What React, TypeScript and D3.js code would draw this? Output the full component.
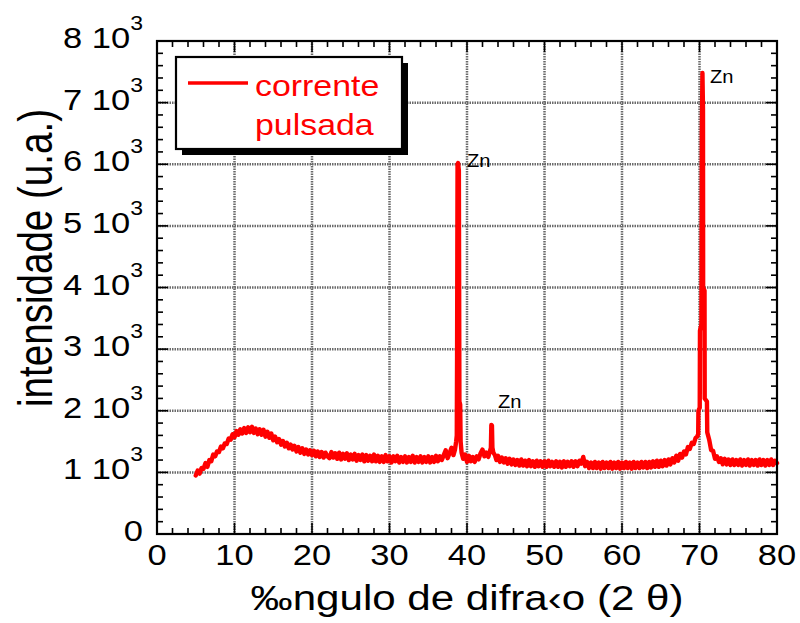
import React from 'react';
import * as d3 from 'd3';

// ---------- data (2θ in degrees, intensity in counts) ----------
const xTickValues = [0, 10, 20, 30, 40, 50, 60, 70, 80];
const xTickLabels = ['0', '10', '20', '30', '40', '50', '60', '70', '80'];
const yTickValues = [0, 1000, 2000, 3000, 4000, 5000, 6000, 7000, 8000];
const yTickMantissas = ['0', '1', '2', '3', '4', '5', '6', '7', '8'];
const yTickExponent = '3';

const seriesName = ['corrente', 'pulsada'];

const amorphousHump: [number, number][] = [
  [5.0, 950], [5.25, 1030], [5.5, 980], [5.75, 1070], [6.0, 1060], [6.25, 1150], [6.5, 1090], [6.75, 1200],
  [7.0, 1180], [7.25, 1290], [7.5, 1260], [7.75, 1340], [8.0, 1330], [8.25, 1420], [8.5, 1390], [8.75, 1470],
  [9.0, 1460], [9.25, 1550], [9.5, 1530], [9.75, 1620], [10.0, 1570], [10.25, 1670], [10.5, 1610], [10.75, 1700],
  [11.0, 1630], [11.25, 1720], [11.5, 1640], [11.75, 1730], [12.0, 1650], [12.25, 1740], [12.5, 1640], [12.75, 1710],
  [13.0, 1620], [13.25, 1700], [13.5, 1610], [13.75, 1690], [14.0, 1580], [14.25, 1660], [14.5, 1560], [14.75, 1630],
  [15.0, 1520], [15.25, 1580], [15.5, 1490], [15.75, 1540], [16.0, 1450], [16.25, 1510], [16.5, 1420], [16.75, 1480],
  [17.0, 1390], [17.25, 1450], [17.5, 1370], [17.75, 1430], [18.0, 1340], [18.25, 1410], [18.5, 1320], [18.75, 1390],
  [19.0, 1300], [19.25, 1370], [19.5, 1290], [19.75, 1360], [20.0, 1280],
];

const baselineLow: [number, number][] = [
  [20.25, 1350], [20.5, 1260], [20.75, 1340], [21.0, 1250], [21.25, 1330], [21.5, 1240], [21.75, 1320], [22.0, 1260],
  [22.25, 1230], [22.5, 1330], [22.75, 1240], [23.0, 1310], [23.25, 1220], [23.5, 1320], [23.75, 1210], [24.0, 1300],
  [24.25, 1220], [24.5, 1310], [24.75, 1200], [25.0, 1290], [25.25, 1210], [25.5, 1300], [25.75, 1190], [26.0, 1280],
  [26.25, 1200], [26.5, 1290], [26.75, 1180], [27.0, 1280], [27.25, 1190], [27.5, 1270], [27.75, 1180], [28.0, 1290],
  [28.25, 1180], [28.5, 1270], [28.75, 1170], [29.0, 1260], [29.25, 1170], [29.5, 1280], [29.75, 1180], [30.0, 1260],
  [30.25, 1160], [30.5, 1260], [30.75, 1180], [31.0, 1270], [31.25, 1160], [31.5, 1250], [31.75, 1170], [32.0, 1260],
  [32.25, 1160], [32.5, 1250], [32.75, 1170], [33.0, 1270], [33.25, 1160], [33.5, 1250], [33.75, 1170], [34.0, 1260],
  [34.25, 1160], [34.5, 1250], [34.75, 1170], [35.0, 1260], [35.25, 1160], [35.5, 1250], [35.75, 1170], [36.0, 1270],
  [36.25, 1180], [36.5, 1260], [36.75, 1200], [37.0, 1280], [37.25, 1360], [37.5, 1230], [37.75, 1310], [38.0, 1400],
  [38.25, 1280], [38.45, 1370],
];

const zincPeak1: [number, number][] = [
  [38.6, 1500], [38.68, 1600], [38.72, 2870], [38.78, 6000], [38.85, 6020], [38.95, 5900], [39.02, 2150],
  [39.12, 2100], [39.18, 1500], [39.3, 1320], [39.5, 1220], [39.75, 1290], [40.0, 1170],
];

const baselineMid: [number, number][] = [
  [40.25, 1270], [40.5, 1180], [40.75, 1250], [41.0, 1170], [41.25, 1260], [41.5, 1210], [41.75, 1310], [42.0, 1370],
  [42.25, 1260], [42.5, 1320], [42.75, 1250], [42.95, 1340],
];

const zincPeak2: [number, number][] = [
  [43.08, 1400], [43.14, 1770], [43.22, 1760], [43.28, 1400], [43.4, 1320], [43.6, 1280], [43.8, 1200],
  [44.0, 1270], [44.25, 1170], [44.5, 1240], [44.75, 1160], [45.0, 1230],
];

const baselineHigh: [number, number][] = [
  [45.25, 1140], [45.5, 1220], [45.75, 1130], [46.0, 1210], [46.25, 1120], [46.5, 1200], [46.75, 1110], [47.0, 1210],
  [47.25, 1110], [47.5, 1190], [47.75, 1100], [48.0, 1200], [48.25, 1100], [48.5, 1180], [48.75, 1090], [49.0, 1190],
  [49.25, 1100], [49.5, 1180], [49.75, 1090], [50.0, 1180], [50.25, 1090], [50.5, 1190], [50.75, 1100], [51.0, 1170],
  [51.25, 1090], [51.5, 1180], [51.75, 1090], [52.0, 1170], [52.25, 1080], [52.5, 1180], [52.75, 1090], [53.0, 1170],
  [53.25, 1100], [53.5, 1180], [53.75, 1090], [54.0, 1180], [54.25, 1100], [54.5, 1190], [54.75, 1140], [55.0, 1250],
  [55.25, 1100], [55.5, 1170], [55.75, 1070], [56.0, 1160], [56.25, 1070], [56.5, 1170], [56.75, 1070], [57.0, 1160],
  [57.25, 1060], [57.5, 1170], [57.75, 1070], [58.0, 1160], [58.25, 1070], [58.5, 1170], [58.75, 1060], [59.0, 1160],
  [59.25, 1070], [59.5, 1170], [59.75, 1060], [60.0, 1160], [60.25, 1070], [60.5, 1170], [60.75, 1070], [61.0, 1160],
  [61.25, 1060], [61.5, 1170], [61.75, 1070], [62.0, 1160], [62.25, 1070], [62.5, 1170], [62.75, 1080], [63.0, 1170],
  [63.25, 1070], [63.5, 1170], [63.75, 1080], [64.0, 1180], [64.25, 1090], [64.5, 1190], [64.75, 1090], [65.0, 1190],
  [65.25, 1100], [65.5, 1200], [65.75, 1110], [66.0, 1210], [66.25, 1130], [66.5, 1230], [66.75, 1160], [67.0, 1270],
  [67.25, 1190], [67.5, 1300], [67.75, 1240], [68.0, 1340], [68.25, 1290], [68.5, 1410], [68.75, 1380], [69.0, 1480],
  [69.25, 1460], [69.5, 1560],
];

const zincPeak3: [number, number][] = [
  [69.7, 1580], [69.83, 1620], [69.86, 2000], [70.03, 2050], [70.06, 3300], [70.25, 3400], [70.3, 6500],
  [70.38, 7480], [70.45, 6900], [70.47, 4000], [70.65, 3950], [70.67, 2200], [70.96, 2150], [71.0, 1650],
  [71.25, 1530], [71.5, 1360], [71.75, 1350], [72.0, 1220], [72.25, 1260], [72.5, 1170], [72.75, 1230],
];

const baselineTail: [number, number][] = [
  [73.0, 1130], [73.25, 1220], [73.5, 1130], [73.75, 1210], [74.0, 1120], [74.25, 1210], [74.5, 1120], [74.75, 1200],
  [75.0, 1120], [75.25, 1210], [75.5, 1110], [75.75, 1200], [76.0, 1120], [76.25, 1210], [76.5, 1110], [76.75, 1200],
  [77.0, 1120], [77.25, 1200], [77.5, 1110], [77.75, 1210], [78.0, 1120], [78.25, 1200], [78.5, 1110], [78.75, 1200],
  [79.0, 1120], [79.25, 1210], [79.5, 1120], [79.75, 1190], [80.0, 1150],
];

const peakLabels: { x: number; y: number; text: string }[] = [
  { x: 40.0, y: 5960, text: 'Zn' },
  { x: 44.0, y: 2045, text: 'Zn' },
  { x: 71.35, y: 7320, text: 'Zn' },
];

const xTitle = '\u2030ngulo de difra\u2039o (2  \u03b8)';
const yTitle = 'intensidade (u.a.)';

// ---------- layout ----------
const W = 800;
const H = 623;
const PL = 157, PR = 777, PT = 41, PB = 534;
const FONT = "'Liberation Sans', Arial, Helvetica, sans-serif";
const SX = 1.15; // horizontal glyph stretch seen in the reference
const RED = '#ff0000';

function StretchText(props: {
  x: number; y: number; size: number; anchor?: string; fill?: string; sx?: number; children: React.ReactNode;
}) {
  const { x, y, size, anchor = 'start', fill = '#000', sx = SX, children } = props;
  return (
    <g transform={`translate(${x},${y}) scale(${sx},1)`}>
      <text x={0} y={0} fontSize={size} fontFamily={FONT} textAnchor={anchor} fill={fill}>
        {children}
      </text>
    </g>
  );
}

export default function App() {
  const x = d3.scaleLinear().domain([0, 80]).range([PL, PR]);
  const y = d3.scaleLinear().domain([0, 8000]).range([PB, PT]);

  const data: [number, number][] = [
    ...amorphousHump, ...baselineLow, ...zincPeak1, ...baselineMid, ...zincPeak2,
    ...baselineHigh, ...zincPeak3, ...baselineTail,
  ];
  const line = d3.line<[number, number]>().x((d) => x(d[0])).y((d) => y(d[1]));

  const xMinor = d3.range(0, 80.001, 2);
  const yMinor = d3.range(0, 8000.001, 200);
  const majorLen = 11;
  const minorLen = 6;

  const gridColor = '#6a6a6a';

  return (
    <svg width={W} height={H} style={{ position: 'absolute', left: 0, top: 0, background: '#fff' }}>
      <rect x={0} y={0} width={W} height={H} fill="#fff" />
      {/* grid */}
      <g stroke={gridColor} strokeWidth={2.5} strokeDasharray="1.5 1">
        {xTickValues.slice(1, -1).map((v) => (
          <line key={'gx' + v} x1={x(v)} x2={x(v)} y1={PT} y2={PB} />
        ))}
        {yTickValues.slice(1, -1).map((v) => (
          <line key={'gy' + v} x1={PL} x2={PR} y1={y(v)} y2={y(v)} />
        ))}
      </g>

      {/* ticks (inside on all sides) */}
      <g stroke="#000" strokeWidth={1.6}>
        {xMinor.map((v) => {
          const len = Math.abs(v % 10) < 1e-6 ? majorLen : minorLen;
          return (
            <g key={'tx' + v}>
              <line x1={x(v)} x2={x(v)} y1={PB} y2={PB - len} />
              <line x1={x(v)} x2={x(v)} y1={PT} y2={PT + len} />
            </g>
          );
        })}
        {yMinor.map((v) => {
          const len = Math.abs(v % 1000) < 1e-6 ? majorLen : minorLen;
          return (
            <g key={'ty' + v}>
              <line x1={PL} x2={PL + len} y1={y(v)} y2={y(v)} />
              <line x1={PR} x2={PR - len} y1={y(v)} y2={y(v)} />
            </g>
          );
        })}
      </g>

      {/* data */}
      <path d={line(data) || ''} fill="none" stroke={RED} strokeWidth={4.4} strokeLinejoin="round" strokeLinecap="round" />

      {/* frame */}
      <rect x={PL} y={PT} width={PR - PL} height={PB - PT} fill="none" stroke="#000" strokeWidth={2.2} />

      {/* peak labels */}
      {peakLabels.map((p, i) => (
        <StretchText key={'pk' + i} x={x(p.x)} y={y(p.y)} size={17.5}>{p.text}</StretchText>
      ))}

      {/* x tick labels */}
      {xTickValues.map((v, i) => (
        <StretchText key={'xl' + v} x={x(v)} y={PB + 31} size={30} anchor="middle">{xTickLabels[i]}</StretchText>
      ))}

      {/* y tick labels */}
      {yTickValues.map((v, i) => (
        <StretchText key={'yl' + v} x={143} y={y(v) + 7} size={30} anchor="end">
          {v === 0 ? (
            yTickMantissas[i]
          ) : (
            <>
              {yTickMantissas[i] + ' 10'}
              <tspan fontSize={20} dy={-18}>{yTickExponent}</tspan>
            </>
          )}
        </StretchText>
      ))}

      {/* axis titles */}
      <StretchText x={(PL + PR) / 2} y={610} size={36} anchor="middle" sx={1.17}>{xTitle}</StretchText>
      <g transform={`translate(52,258) scale(1.2,1) rotate(-90)`}>
        <text x={0} y={0} fontSize={40.5} fontFamily={FONT} textAnchor="middle" fill="#000"
          textLength={298} lengthAdjust="spacingAndGlyphs">{yTitle}</text>
      </g>

      {/* legend */}
      <rect x={182} y={63} width={226} height={92} fill="#000" />
      <rect x={176} y={57} width={226} height={92} fill="#fff" stroke="#000" strokeWidth={2.2} />
      <line x1={188} x2={248} y1={83} y2={83} stroke={RED} strokeWidth={3.6} />
      <StretchText x={255} y={96} size={30} fill={RED} sx={1.13}>{seriesName[0]}</StretchText>
      <StretchText x={255} y={135} size={30} fill={RED} sx={1.13}>{seriesName[1]}</StretchText>
    </svg>
  );
}
